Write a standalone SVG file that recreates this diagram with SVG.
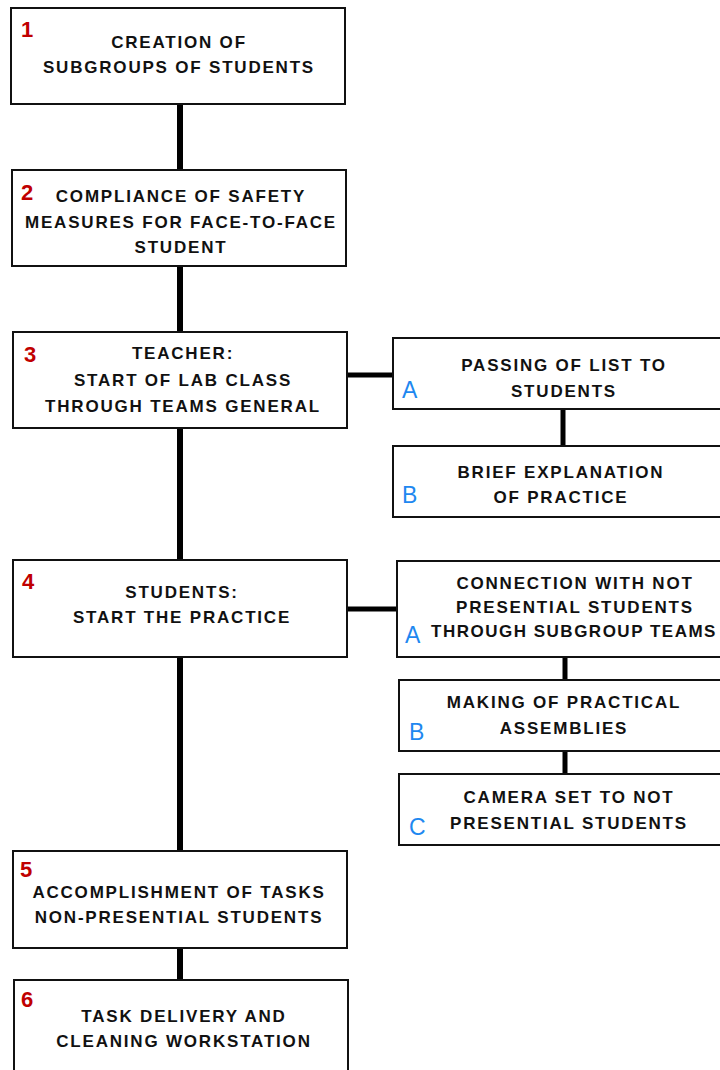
<svg xmlns="http://www.w3.org/2000/svg" width="720" height="1070" viewBox="0 0 720 1070">
<style>
.box{fill:#fff;stroke:#111;stroke-width:2}
.t{font-family:"Liberation Sans",Arial,sans-serif;font-weight:bold;font-size:17px;letter-spacing:1.8px;fill:#111;text-anchor:middle}
.n{font-family:"Liberation Sans",Arial,sans-serif;font-size:22px;fill:#c00000;font-weight:bold}
.l{font-family:"Liberation Sans",Arial,sans-serif;font-size:23px;fill:#1e88f0}
.c{stroke:#000;fill:none}
.m{stroke-width:6}
.s{stroke-width:5}
</style>
<rect width="720" height="1070" fill="#fff"/>
<g id="connectors">
<line class="c m" x1="180" y1="104" x2="180" y2="170"/>
<line class="c m" x1="180" y1="266" x2="180" y2="332"/>
<line class="c m" x1="180" y1="428" x2="180" y2="560"/>
<line class="c m" x1="180" y1="657" x2="180" y2="851"/>
<line class="c m" x1="180" y1="948" x2="180" y2="980"/>
<line class="c s" x1="347" y1="375" x2="393" y2="375"/>
<line class="c s" x1="563" y1="409" x2="563" y2="446"/>
<line class="c s" x1="347" y1="609" x2="397" y2="609"/>
<line class="c s" x1="565" y1="657" x2="565" y2="680"/>
<line class="c s" x1="565" y1="751" x2="565" y2="774"/>
</g>
<g id="node1">
<rect class="box" x="11" y="8" width="334" height="96"/>
<text class="n" x="21" y="37">1</text>
<text class="t" x="179" y="48">CREATION OF</text>
<text class="t" x="179" y="73">SUBGROUPS OF STUDENTS</text>
</g>
<g id="node2">
<rect class="box" x="12" y="170" width="334" height="96"/>
<text class="n" x="21" y="200">2</text>
<text class="t" x="181" y="202">COMPLIANCE OF SAFETY</text>
<text class="t" x="181" y="228">MEASURES FOR FACE-TO-FACE</text>
<text class="t" x="181" y="253">STUDENT</text>
</g>
<g id="node3">
<rect class="box" x="13" y="332" width="334" height="96"/>
<text class="n" x="24" y="362">3</text>
<text class="t" x="183" y="359">TEACHER:</text>
<text class="t" x="183" y="386">START OF LAB CLASS</text>
<text class="t" x="183" y="412">THROUGH TEAMS GENERAL</text>
</g>
<g id="node3A">
<rect class="box" x="393" y="338" width="340" height="71"/>
<text class="l" x="402" y="398">A</text>
<text class="t" x="564" y="371">PASSING OF LIST TO</text>
<text class="t" x="564" y="397">STUDENTS</text>
</g>
<g id="node3B">
<rect class="box" x="393" y="446" width="340" height="71"/>
<text class="l" x="402" y="503">B</text>
<text class="t" x="561" y="478">BRIEF EXPLANATION</text>
<text class="t" x="561" y="503">OF PRACTICE</text>
</g>
<g id="node4">
<rect class="box" x="13" y="560" width="334" height="97"/>
<text class="n" x="22" y="589">4</text>
<text class="t" x="182" y="598">STUDENTS:</text>
<text class="t" x="182" y="623">START THE PRACTICE</text>
</g>
<g id="node4A">
<rect class="box" x="397" y="561" width="336" height="96"/>
<text class="l" x="405" y="643">A</text>
<text class="t" x="575" y="589">CONNECTION WITH NOT</text>
<text class="t" x="575" y="613">PRESENTIAL STUDENTS</text>
<text class="t" x="574" y="637" style="letter-spacing:1.5px">THROUGH SUBGROUP TEAMS</text>
</g>
<g id="node4B">
<rect class="box" x="399" y="680" width="334" height="71"/>
<text class="l" x="409" y="740">B</text>
<text class="t" x="564" y="708">MAKING OF PRACTICAL</text>
<text class="t" x="564" y="734">ASSEMBLIES</text>
</g>
<g id="node4C">
<rect class="box" x="399" y="774" width="334" height="71"/>
<text class="l" x="409" y="835">C</text>
<text class="t" x="569" y="803">CAMERA SET TO NOT</text>
<text class="t" x="569" y="829">PRESENTIAL STUDENTS</text>
</g>
<g id="node5">
<rect class="box" x="13" y="851" width="334" height="97"/>
<text class="n" x="20" y="877">5</text>
<text class="t" x="179" y="898">ACCOMPLISHMENT OF TASKS</text>
<text class="t" x="179" y="923">NON-PRESENTIAL STUDENTS</text>
</g>
<g id="node6">
<rect class="box" x="14" y="980" width="334" height="100"/>
<text class="n" x="21" y="1007">6</text>
<text class="t" x="184" y="1022">TASK DELIVERY AND</text>
<text class="t" x="184" y="1047">CLEANING WORKSTATION</text>
</g>
</svg>
